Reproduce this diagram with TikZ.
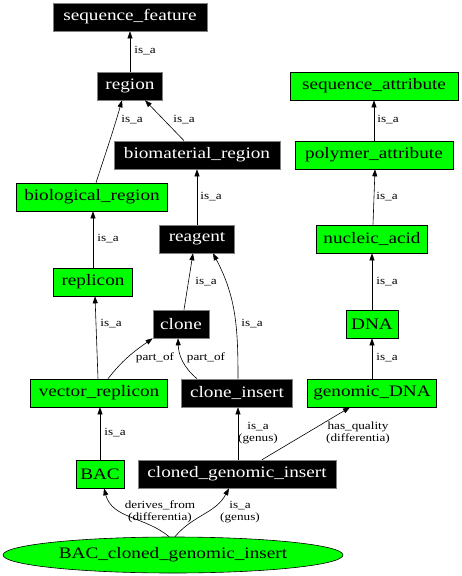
\documentclass[tikz,border=0pt]{standalone}
\usepackage{fontspec}
\setmainfont[FakeStretch=1.2]{Liberation Serif}
\usetikzlibrary{arrows.meta,shapes.geometric}
\definecolor{gr}{HTML}{00FF00}
\newcommand{\nodefnt}{\fontsize{16}{18}\selectfont}
\newcommand{\lblfnt}{\fontsize{11}{12}\selectfont}
\tikzset{
  gbox/.style={rectangle, draw=black, fill=gr, text=black, minimum height=28pt, inner sep=0pt, font=\nodefnt, line width=0.6pt},
  bbox/.style={rectangle, draw=gray, fill=black, text=white, minimum height=28pt, inner sep=0pt, font=\nodefnt, line width=0.6pt},
  lbl/.style={inner sep=0pt, align=center, font=\lblfnt},
  arr/.style={draw=black, line width=0.6pt, -{Triangle[length=7pt,width=5pt]}}
}
\begin{document}
\begin{tikzpicture}[x=1pt,y=-1pt]
\useasboundingbox (0,0) rectangle (461,576);
% nodes
\node[bbox, minimum width=154pt] (sf) at (130,17) {sequence\_feature};
\node[bbox, minimum width=65pt] (reg) at (130,86) {region};
\node[gbox, minimum width=168pt] (sa) at (374,86) {sequence\_attribute};
\node[bbox, minimum width=166pt] (bmr) at (197,155) {biomaterial\_region};
\node[gbox, minimum width=158pt] (pa) at (374,155) {polymer\_attribute};
\node[gbox, minimum width=151pt] (bior) at (92,197) {biological\_region};
\node[bbox, minimum width=75pt] (rea) at (197,239) {reagent};
\node[gbox, minimum width=111pt] (na) at (372,239) {nucleic\_acid};
\node[gbox, minimum width=79pt] (rep) at (93,282) {replicon};
\node[bbox, minimum width=56pt] (clo) at (181,324) {clone};
\node[gbox, minimum width=52pt] (dna) at (372,324) {DNA};
\node[gbox, minimum width=137pt] (vrep) at (99,393) {vector\_replicon};
\node[bbox, minimum width=111pt] (ci) at (237,393) {clone\_insert};
\node[gbox, minimum width=129pt] (gdna) at (372,393) {genomic\_DNA};
\node[gbox, minimum width=48pt] (bac) at (100,474) {BAC};
\node[bbox, minimum width=198pt] (cgi) at (237,474) {cloned\_genomic\_insert};
\node[ellipse, draw=black, fill=gr, minimum width=340pt, minimum height=36pt, inner sep=0pt, font=\nodefnt, line width=0.6pt] (bcgi) at (173,555) {BAC\_cloned\_genomic\_insert};
% edges
\draw[arr] (reg.north) -- (sf.south);
\draw[arr] ([xshift=4pt]bior.north) to[out=72,in=-106] ([xshift=-8pt]reg.south);
\draw[arr] ([xshift=-13pt]bmr.north) -- ([xshift=15pt]reg.south);
\draw[arr] (pa.north) -- (sa.north |- sa.south);
\draw[arr] (rea.north) -- (bmr.south);
\draw[arr] ([xshift=1pt]na.north) -- ([xshift=1pt]pa.south);
\draw[arr] (rep.north) -- (bior.south -| rep.north);
\draw[arr] ([xshift=3pt]clo.north) -- ([xshift=-4pt]rea.south);
\draw[arr] ([xshift=1pt]ci.north) to[out=90,in=-62] ([xshift=16pt]rea.south);
\draw[arr] (dna.north) -- (na.south);
\draw[arr] ([xshift=-1pt]vrep.north) -- ([xshift=2pt]rep.south);
\draw[arr] ([xshift=9pt]vrep.north) to[out=52,in=-145] (clo.south west);
\draw[arr] ([xshift=-40pt]ci.north) to[out=140,in=-88] ([xshift=-3pt]clo.south);
\draw[arr] (gdna.north) -- (dna.south);
\draw[arr] (bac.north) -- ([xshift=1pt]vrep.south);
\draw[arr] ([xshift=1pt]cgi.north) -- ([xshift=1pt]ci.south);
\draw[arr] ([xshift=25pt]cgi.north) -- ([xshift=-22pt]gdna.south);
\draw[arr] (bcgi.102) to[out=140,in=-75] ([xshift=4pt]bac.south);
\draw[arr] (bcgi.84) to[out=50,in=-118] ([xshift=-8pt]cgi.south);
% labels
\node[lbl] (l1) at (145,51) {is\_a};
\node[lbl] (l2) at (132,120) {is\_a};
\node[lbl] (l3) at (184,120) {is\_a};
\node[lbl] (l4) at (388,120) {is\_a};
\node[lbl] (l5) at (211,197) {is\_a};
\node[lbl] (l6) at (387,197) {is\_a};
\node[lbl] (l7) at (108,239) {is\_a};
\node[lbl] (l8) at (206,282) {is\_a};
\node[lbl] (l9) at (252,324) {is\_a};
\node[lbl] (l10) at (387,282) {is\_a};
\node[lbl] (l11) at (111,324) {is\_a};
\node[lbl] (l12) at (155,358) {part\_of};
\node[lbl] (l13) at (206,358) {part\_of};
\node[lbl] (l14) at (387,358) {is\_a};
\node[lbl] (l15) at (115,433) {is\_a};
\node[lbl] (l16) at (258,433) {is\_a\\(genus)};
\node[lbl] (l17) at (358,433) {has\_quality\\(differentia)};
\node[lbl] (l18) at (160,512) {derives\_from\\(differentia)};
\node[lbl] (l19) at (240,512) {is\_a\\(genus)};
\end{tikzpicture}
\end{document}
